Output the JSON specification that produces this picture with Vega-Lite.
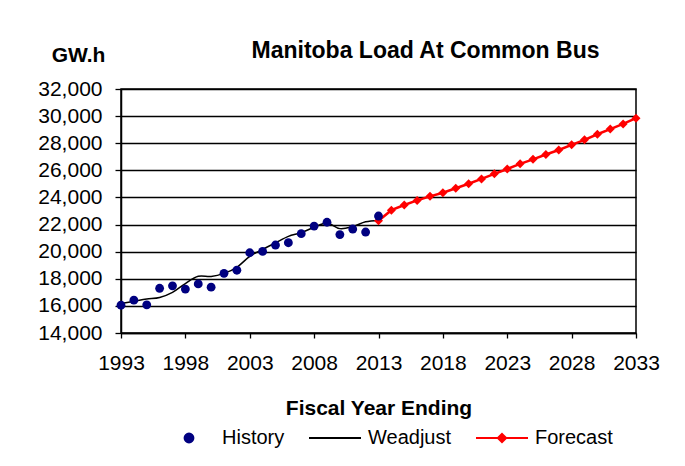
{
  "$schema": "https://vega.github.io/schema/vega-lite/v6.json",
  "width": 515,
  "height": 244,
  "autosize": {"type": "none"},
  "padding": {"left": 121, "top": 89, "right": 49, "bottom": 133},
  "background": "white",
  "title": {"text": "Manitoba Load At Common Bus", "font": "Liberation Sans", "fontSize": 23, "fontWeight": "bold", "color": "black", "anchor": "middle", "frame": "group", "dx": 47, "baseline": "alphabetic", "offset": -37},
  "data": {"values": [
    {"year": 1993, "value": 16050, "series": "History"},
    {"year": 1994, "value": 16420, "series": "History"},
    {"year": 1995, "value": 16080, "series": "History"},
    {"year": 1996, "value": 17300, "series": "History"},
    {"year": 1997, "value": 17480, "series": "History"},
    {"year": 1998, "value": 17240, "series": "History"},
    {"year": 1999, "value": 17620, "series": "History"},
    {"year": 2000, "value": 17380, "series": "History"},
    {"year": 2001, "value": 18400, "series": "History"},
    {"year": 2002, "value": 18630, "series": "History"},
    {"year": 2003, "value": 19920, "series": "History"},
    {"year": 2004, "value": 20020, "series": "History"},
    {"year": 2005, "value": 20490, "series": "History"},
    {"year": 2006, "value": 20660, "series": "History"},
    {"year": 2007, "value": 21330, "series": "History"},
    {"year": 2008, "value": 21890, "series": "History"},
    {"year": 2009, "value": 22170, "series": "History"},
    {"year": 2010, "value": 21260, "series": "History"},
    {"year": 2011, "value": 21670, "series": "History"},
    {"year": 2012, "value": 21450, "series": "History"},
    {"year": 2013, "value": 22630, "series": "History"},
    {"year": 1993, "value": 16180, "series": "Weadjust"},
    {"year": 1994, "value": 16340, "series": "Weadjust"},
    {"year": 1995, "value": 16500, "series": "Weadjust"},
    {"year": 1996, "value": 16620, "series": "Weadjust"},
    {"year": 1997, "value": 17000, "series": "Weadjust"},
    {"year": 1998, "value": 17650, "series": "Weadjust"},
    {"year": 1999, "value": 18180, "series": "Weadjust"},
    {"year": 2000, "value": 18170, "series": "Weadjust"},
    {"year": 2001, "value": 18400, "series": "Weadjust"},
    {"year": 2002, "value": 18850, "series": "Weadjust"},
    {"year": 2003, "value": 19650, "series": "Weadjust"},
    {"year": 2004, "value": 20170, "series": "Weadjust"},
    {"year": 2005, "value": 20650, "series": "Weadjust"},
    {"year": 2006, "value": 21130, "series": "Weadjust"},
    {"year": 2007, "value": 21400, "series": "Weadjust"},
    {"year": 2008, "value": 21800, "series": "Weadjust"},
    {"year": 2009, "value": 22120, "series": "Weadjust"},
    {"year": 2010, "value": 21700, "series": "Weadjust"},
    {"year": 2011, "value": 21850, "series": "Weadjust"},
    {"year": 2012, "value": 22200, "series": "Weadjust"},
    {"year": 2013, "value": 22300, "series": "Weadjust"},
    {"year": 2013, "value": 22280, "series": "Forecast"},
    {"year": 2014, "value": 23060, "series": "Forecast"},
    {"year": 2015, "value": 23440, "series": "Forecast"},
    {"year": 2016, "value": 23780, "series": "Forecast"},
    {"year": 2017, "value": 24080, "series": "Forecast"},
    {"year": 2018, "value": 24350, "series": "Forecast"},
    {"year": 2019, "value": 24680, "series": "Forecast"},
    {"year": 2020, "value": 25010, "series": "Forecast"},
    {"year": 2021, "value": 25365, "series": "Forecast"},
    {"year": 2022, "value": 25740, "series": "Forecast"},
    {"year": 2023, "value": 26100, "series": "Forecast"},
    {"year": 2024, "value": 26480, "series": "Forecast"},
    {"year": 2025, "value": 26810, "series": "Forecast"},
    {"year": 2026, "value": 27170, "series": "Forecast"},
    {"year": 2027, "value": 27500, "series": "Forecast"},
    {"year": 2028, "value": 27880, "series": "Forecast"},
    {"year": 2029, "value": 28250, "series": "Forecast"},
    {"year": 2030, "value": 28660, "series": "Forecast"},
    {"year": 2031, "value": 29040, "series": "Forecast"},
    {"year": 2032, "value": 29420, "series": "Forecast"},
    {"year": 2033, "value": 29850, "series": "Forecast"}
  ]},
  "encoding": {
    "x": {
      "field": "year", "type": "quantitative",
      "scale": {"domain": [1993, 2033], "nice": false, "zero": false},
      "axis": {
        "values": [1993, 1998, 2003, 2008, 2013, 2018, 2023, 2028, 2033],
        "format": "d", "grid": false, "labelFlush": false, "labelOverlap": false,
        "tickSize": 5, "labelPadding": 14,
        "title": "Fiscal Year Ending", "titleY": 81, "titleBaseline": "alphabetic"
      }
    },
    "y": {
      "field": "value", "type": "quantitative",
      "scale": {"domain": [14000, 32000], "nice": false, "zero": false},
      "axis": {
        "values": [14000, 16000, 18000, 20000, 22000, 24000, 26000, 28000, 30000, 32000],
        "format": ",d", "grid": true, "labelFlush": false, "labelOverlap": false,
        "tickSize": 6, "labelPadding": 13,
        "title": "GW.h", "titleAngle": 0, "titleAlign": "center", "titleBaseline": "alphabetic",
        "titleX": -43, "titleY": -28
      }
    },
    "color": {
      "field": "series", "type": "nominal",
      "scale": {"domain": ["History", "Weadjust", "Forecast"], "range": ["#000080", "#000000", "#FF0000"]},
      "legend": {
        "title": null, "orient": "none", "legendX": 41, "legendY": 322, "direction": "horizontal",
        "symbolSize": 2704, "symbolStrokeWidth": 2, "labelOffset": 6, "columnPadding": 20,
        "labelFont": "Liberation Sans", "labelFontSize": 20, "labelColor": "black",
        "encode": {
          "symbols": {
            "update": {
              "shape": {"signal": "datum.value === 'History' ? 'M0,-0.17A0.17,0.17 0 1,1 0,0.17A0.17,0.17 0 1,1 0,-0.17Z' : datum.value === 'Weadjust' ? 'M-1,0H1' : 'M-1,0H1M0,-0.16L0.16,0L0,0.16L-0.16,0Z'"},
              "fill": {"scale": "color", "field": "value"},
              "stroke": {"scale": "color", "field": "value"},
              "strokeWidth": {"value": 2},
              "opacity": {"value": 1}
            }
          }
        }
      }
    }
  },
  "layer": [
    {"transform": [{"filter": "datum.series === 'Weadjust'"}], "mark": {"type": "line", "interpolate": "catmull-rom", "strokeWidth": 1.5}},
    {"transform": [{"filter": "datum.series === 'Forecast'"}], "mark": {"type": "line", "strokeWidth": 2.5}},
    {"transform": [{"filter": "datum.series === 'Forecast'"}], "mark": {"type": "point", "shape": "diamond", "filled": true, "size": 81, "opacity": 1}},
    {"transform": [{"filter": "datum.series === 'History'"}], "mark": {"type": "circle", "size": 78, "opacity": 1}}
  ],
  "config": {
    "view": {"stroke": "black", "strokeWidth": 1.5},
    "font": "Liberation Sans",
    "axis": {
      "domainColor": "black", "domainWidth": 1.5, "tickColor": "black", "tickWidth": 1.3,
      "gridColor": "black", "gridWidth": 1.3, "gridOpacity": 1,
      "labelFont": "Liberation Sans", "labelFontSize": 21, "labelColor": "black",
      "titleFont": "Liberation Sans", "titleFontSize": 21, "titleFontWeight": "bold", "titleColor": "black"
    }
  }
}
